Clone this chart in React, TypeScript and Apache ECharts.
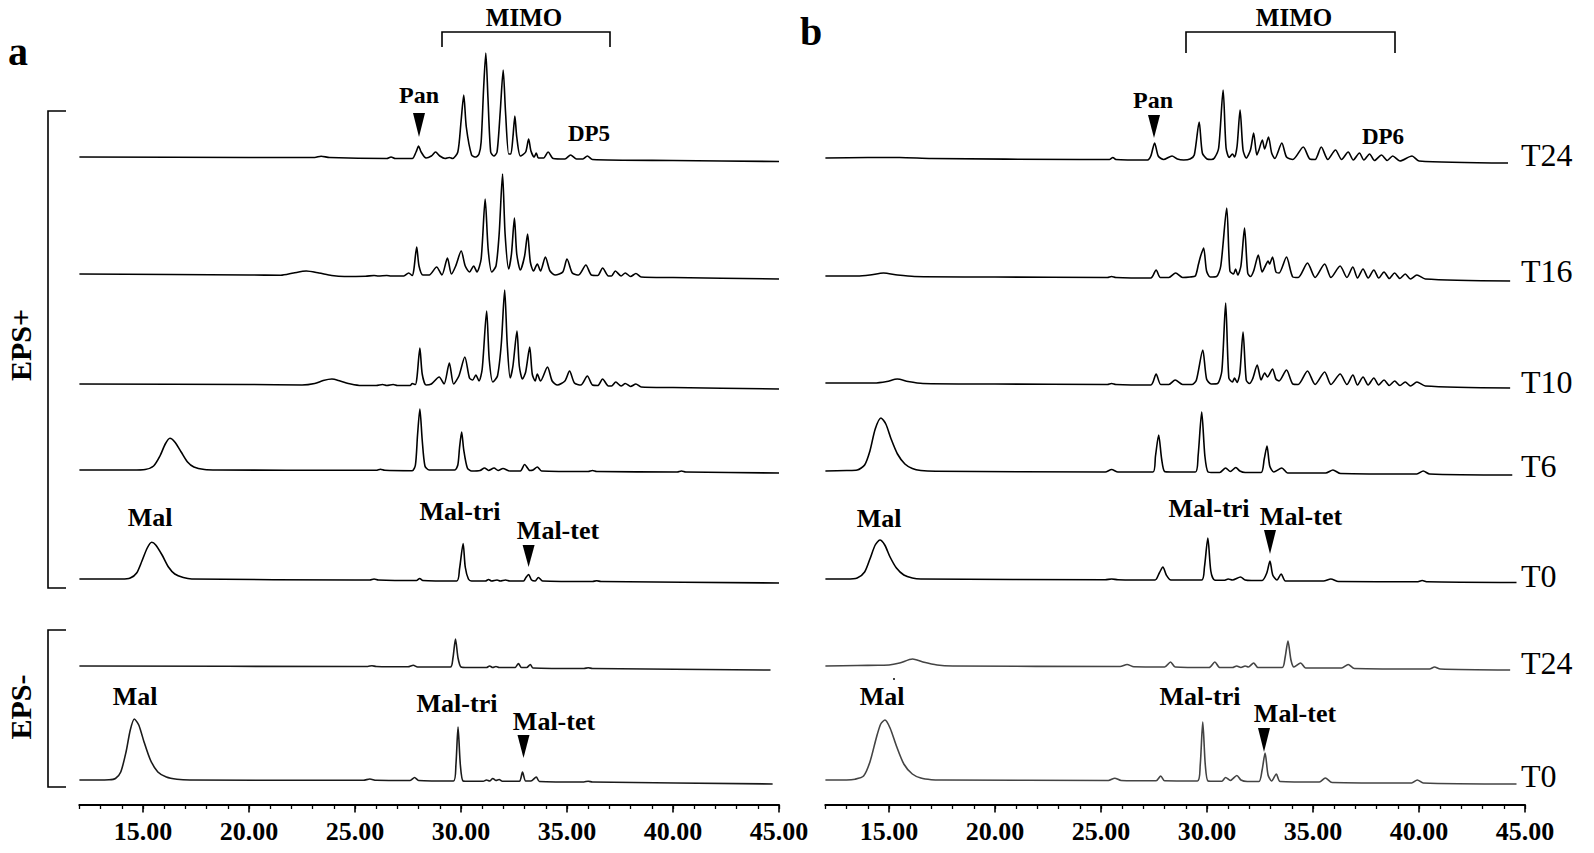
import React, { useEffect, useRef } from "react";
import * as echarts from "echarts";

// ---------- data (retention time in min, detector signal) ----------
const X_MIN = 12;
const X_MAX = 45;
const traceLabels = ["T24", "T16", "T10", "T6", "T0", "T24", "T0"];

const aT24: number[][] = [[12,0],[20,-0.5],[23.1,-0.5],[23.4,0.8],[23.8,-0.5],[26.5,-1.5],[26.7,0],[26.9,-1.5],[27.7,-1.5],[27.88,5],[28.0,11],[28.12,5],[28.35,-1],[28.6,1],[28.8,5],[29.0,1],[29.25,-1.5],[29.45,-0.5],[29.6,-1.5],[29.85,5],[30.0,35],[30.13,62],[30.25,30],[30.5,2],[30.7,0],[30.85,3],[30.95,15],[31.07,70],[31.17,104],[31.27,60],[31.4,5],[31.55,1],[31.7,5],[31.85,45],[31.99,87],[32.1,45],[32.25,3],[32.35,3],[32.45,20],[32.54,41],[32.63,20],[32.8,1],[33.05,5],[33.19,18],[33.3,6],[33.45,0],[33.55,4],[33.65,-1],[33.9,-1],[34.11,5],[34.35,-1.5],[34.9,-2],[35.17,2],[35.45,-2],[35.75,-2],[35.96,1],[36.2,-2.5],[40,-3.5],[45,-4.5]];
const aT16: number[][] = [[12,0],[20,-1],[21.5,-1.3],[22.1,1],[22.7,3],[23.3,1],[23.9,-1.5],[24.5,-2.5],[25.5,-2.2],[25.9,-1.5],[26.1,-2],[26.5,-1.5],[26.7,-2],[27.3,-2],[27.53,1],[27.7,-1.5],[27.78,5],[27.91,27],[28.02,8],[28.2,-1],[28.5,-1],[28.85,7],[29.1,-1],[29.36,16],[29.55,0],[29.75,8],[30.01,23],[30.2,8],[30.4,2],[30.6,8],[30.75,2],[30.95,15],[31.14,75],[31.28,25],[31.45,2],[31.65,8],[31.8,40],[31.96,100],[32.08,40],[32.25,5],[32.38,20],[32.52,56],[32.63,20],[32.8,4],[33.0,18],[33.14,40],[33.27,12],[33.42,3],[33.6,10],[33.75,3],[33.98,17],[34.2,3],[34.45,-1],[34.8,2],[35.0,15],[35.25,1],[35.55,-1],[35.89,9],[36.15,-1],[36.45,-1.5],[36.68,6],[36.95,-2],[37.1,-2],[37.28,3],[37.55,-2],[37.75,1],[38.0,-2.5],[38.25,0.5],[38.5,-3],[40,-3.5],[45,-5]];
const aT10: number[][] = [[12,0],[20,-0.5],[22.5,-1],[23.1,0.5],[23.5,3.5],[23.91,5],[24.3,3],[24.8,0],[25.3,-1.5],[26.0,-1.5],[26.3,-0.5],[26.5,-1.5],[26.8,-0.5],[27.0,-1.5],[27.6,-1.5],[27.7,0.5],[27.85,-0.5],[27.93,8],[28.06,36],[28.17,10],[28.35,-1],[28.6,0],[28.97,7],[29.2,0],[29.45,21],[29.65,0],[29.9,8],[30.18,27],[30.4,6],[30.55,4],[30.7,9],[30.85,3],[31.0,15],[31.21,73],[31.33,25],[31.5,2],[31.72,8],[31.9,40],[32.06,94],[32.18,40],[32.32,6],[32.45,18],[32.64,53],[32.75,18],[32.9,5],[33.05,12],[33.24,37],[33.36,10],[33.5,3],[33.6,10],[33.75,3],[34.08,17],[34.3,3],[34.55,-1],[34.9,3],[35.12,13],[35.35,1],[35.65,-1],[35.96,8],[36.2,-1],[36.45,-1.5],[36.68,5],[36.95,-2],[37.1,-2],[37.3,2],[37.55,-2],[37.75,0.5],[38.0,-2.5],[38.25,0],[38.5,-3],[40,-3.5],[45,-5]];
const aT6: number[][] = [[12,0],[14.5,0],[15.1,0.5],[15.5,4],[15.8,14],[16.05,26],[16.27,31.7],[16.5,28],[16.8,18],[17.1,8],[17.4,3],[17.9,0.5],[18.5,0],[25,-0.3],[26.0,-0.3],[26.2,0.8],[26.4,-0.3],[27.7,-0.7],[27.85,5],[27.95,35],[28.06,61],[28.17,30],[28.3,4],[28.5,0],[29.7,0],[29.85,5],[29.93,22],[30.03,38],[30.13,20],[30.3,2],[30.5,-1],[30.9,-0.5],[31.11,2],[31.3,-0.5],[31.56,2],[31.75,-0.5],[31.98,1.5],[32.3,-1],[32.8,-1],[33.0,5.5],[33.25,-0.5],[33.4,0],[33.6,3],[33.8,-1],[36,-1.5],[36.2,-0.5],[36.4,-1.5],[40.2,-2],[40.4,-1],[40.6,-2],[45,-3]];
const aT0: number[][] = [[12,0],[14.0,0],[14.4,1],[14.7,6],[14.95,18],[15.2,31],[15.41,36.7],[15.6,34],[15.9,24],[16.2,12],[16.5,5],[16.9,1.5],[17.3,0],[25,-1],[25.7,-1],[25.9,0],[26.1,-1],[27.9,-1.5],[28.05,0.5],[28.2,-1.5],[29.8,-2],[29.93,10],[30.1,35.5],[30.2,12],[30.35,0],[30.5,-2],[31.15,-2],[31.3,-0.5],[31.45,-2],[31.7,-1],[31.85,-2],[32.1,-1],[32.3,-2],[32.95,-2],[33.05,1],[33.19,4.5],[33.33,-1],[33.5,-2],[33.65,1.5],[33.85,-2],[36.2,-2.5],[36.4,-1.8],[36.6,-2.5],[45,-4]];
const aNegT24: number[][] = [[12,0],[25,-0.5],[25.6,-0.5],[25.8,0.3],[26,-0.5],[27.5,-0.8],[27.75,0.8],[27.95,-1],[29.5,-1],[29.62,8],[29.74,27],[29.86,8],[30.0,-1],[30.3,-1.5],[31.2,-1.5],[31.35,0],[31.5,-1.5],[31.65,-0.5],[31.8,-1.5],[32.55,-1.5],[32.71,2.5],[32.85,-1.5],[33.1,-1.5],[33.27,1.5],[33.4,-2],[35.8,-2.5],[36.0,-1.8],[36.2,-2.5],[44.6,-4]];
const aNegT0: number[][] = [[12,0],[13.4,0.3],[13.7,1.5],[13.95,8],[14.2,28],[14.4,50],[14.59,61],[14.8,55],[15.05,38],[15.35,20],[15.7,8],[16.1,3],[16.6,0.8],[17.2,0],[25.4,-0.3],[25.7,1],[26.0,-0.3],[27.6,-0.5],[27.81,2.5],[28.0,-0.5],[29.65,-1],[29.76,15],[29.86,53],[29.97,15],[30.1,-1],[30.4,-1.3],[31.05,-1.3],[31.2,0],[31.35,-1],[31.5,1.5],[31.65,-0.5],[31.8,0.5],[31.95,-1.3],[32.75,-1.3],[32.9,8],[33.05,-1],[33.3,-1],[33.55,3],[33.7,-1.5],[35.8,-2],[36.0,-1.2],[36.2,-2],[44.7,-4]];

const bT24: number[][] = [[12,0],[14,0.5],[15.5,0.5],[17,-0.5],[24,-1.5],[25.4,-1.5],[25.56,0.5],[25.7,-1.5],[27.2,-2],[27.35,2],[27.53,15],[27.7,2],[27.95,-1.5],[28.35,2],[28.6,-1],[28.9,-2],[29.2,-1],[29.4,3],[29.63,36],[29.78,5],[30.0,-1],[30.2,-1.5],[30.35,0],[30.55,10],[30.76,68],[30.9,10],[31.05,0.5],[31.2,4],[31.3,1],[31.42,12],[31.56,48],[31.7,8],[31.85,0],[32.05,8],[32.2,25],[32.35,3],[32.45,8],[32.61,18],[32.72,9],[32.9,21],[33.05,5],[33.2,-0.5],[33.53,15],[33.75,1],[34.05,-1.5],[34.54,11],[34.85,-1],[35.1,-1.5],[35.39,11],[35.7,-1.5],[36.06,8],[36.35,-1.5],[36.66,6],[36.9,-2],[37.19,5],[37.4,-2],[37.67,4],[37.9,-2.5],[38.23,3],[38.5,-2.5],[38.76,2],[39.1,-3],[39.67,2],[40.0,-3],[44.2,-5]];
const bT16: number[][] = [[12,0],[13.5,0],[14.1,1],[14.74,3],[15.4,1],[16.2,-0.5],[20,-1],[25.3,-1.5],[25.5,-0.5],[25.7,-1.5],[27.35,-2],[27.6,6],[27.8,-1.5],[28.2,-1.5],[28.52,3],[28.85,-1.5],[29.2,-1],[29.45,0],[29.6,12],[29.7,20],[29.84,28],[29.98,5],[30.15,-1],[30.45,-0.5],[30.65,10],[30.93,68],[31.08,5],[31.25,2],[31.35,7],[31.45,1],[31.6,10],[31.77,48],[31.92,3],[32.05,-0.5],[32.2,5],[32.42,21],[32.6,4],[32.75,10],[32.88,15],[32.95,12],[33.09,19],[33.25,4],[33.4,3],[33.75,19],[34.05,-1],[34.3,-1.5],[34.74,13],[35.1,-1.5],[35.55,12],[35.85,-1.5],[36.28,10],[36.6,-1.5],[36.88,9],[37.1,-2],[37.36,7],[37.6,-2],[37.87,6],[38.1,-2],[38.35,4],[38.6,-2.5],[38.85,3],[39.1,-2.5],[39.35,2],[39.6,-3],[39.9,1],[40.3,-3],[44.3,-5]];
const bT10: number[][] = [[12,0],[14.3,0],[14.9,1.5],[15.39,4],[15.9,1.5],[16.6,-0.5],[20,-1],[25.3,-1.5],[25.5,-0.5],[25.7,-1.5],[27.35,-2],[27.6,9],[27.82,-1.5],[28.2,-1.5],[28.5,3],[28.85,-1.5],[29.3,-1.5],[29.5,3],[29.8,33],[29.98,4],[30.2,-1],[30.5,-0.5],[30.7,12],[30.88,80],[31.03,5],[31.2,1],[31.3,5],[31.42,0.5],[31.55,10],[31.7,51],[31.85,3],[32.0,-0.5],[32.15,4],[32.37,18],[32.55,3],[32.72,10],[32.85,6],[33.09,14],[33.25,4],[33.4,2],[33.75,13],[34.05,-1],[34.3,-1.5],[34.74,12],[35.1,-1.5],[35.55,11],[35.85,-1.5],[36.28,9],[36.6,-1.5],[36.88,8],[37.1,-2],[37.36,6],[37.6,-2],[37.87,5],[38.1,-2],[38.35,3],[38.6,-2.5],[38.85,2],[39.1,-2.5],[39.35,1],[39.6,-3],[39.9,1],[40.3,-3],[44.3,-5]];
const bT6: number[][] = [[12,0],[13.0,0.5],[13.5,1],[13.85,6],[14.1,20],[14.35,42],[14.62,53],[14.85,47],[15.1,32],[15.4,17],[15.75,7],[16.1,2.5],[16.5,0.5],[17.2,-0.3],[25.2,-1],[25.5,1.5],[25.8,-1],[27.45,-1],[27.57,15],[27.72,36],[27.86,12],[28.0,-0.5],[28.3,-1],[29.45,-1],[29.58,15],[29.75,59],[29.9,15],[30.05,-1],[30.3,-1.5],[30.6,-1.5],[30.88,3],[31.1,-0.5],[31.36,3.5],[31.55,0],[31.8,-1.5],[32.55,-1.5],[32.7,12],[32.83,25],[32.96,5],[33.15,-1],[33.53,3],[33.8,-2],[35.6,-2],[35.94,1],[36.3,-2.5],[39.9,-3],[40.2,0],[40.5,-3],[44.4,-4]];
const bT0: number[][] = [[12,0],[13.0,0],[13.5,1],[13.85,7],[14.1,20],[14.35,34],[14.57,39],[14.8,34],[15.05,22],[15.35,11],[15.7,4],[16.1,1],[16.5,0],[25.2,-0.7],[25.5,0],[25.8,-0.7],[27.55,-1],[27.75,6],[27.92,12],[28.08,4],[28.3,-1],[29.75,-1],[29.88,12],[30.04,41],[30.18,8],[30.35,-1],[30.8,-1.3],[31.0,0],[31.2,-1],[31.58,2],[31.8,-1],[32.1,-1.5],[32.6,-1.5],[32.82,6],[32.97,18],[33.1,4],[33.3,-1],[33.5,5],[33.7,-2],[35.5,-2],[35.84,0],[36.2,-2.5],[39.9,-2.8],[40.15,-1.5],[40.4,-2.8],[44.6,-3.5]];
const bNegT24: number[][] = [[12,0],[13.5,0.5],[14.5,0.8],[15.0,1],[15.5,3],[16.11,7],[16.6,4],[17.27,1],[18,0],[25.9,-0.5],[26.23,1.5],[26.55,-0.8],[28.0,-1],[28.28,4],[28.5,-1],[30.1,-1.5],[30.37,4],[30.6,-1.5],[31.2,-1.5],[31.4,0],[31.6,-1.5],[31.8,0],[31.95,-1],[32.2,3],[32.4,-1.5],[33.55,-1.5],[33.68,8],[33.82,25],[33.96,6],[34.1,-1],[34.42,3],[34.65,-2],[36.35,-2],[36.66,1.5],[36.95,-2.5],[40.5,-3],[40.73,-1],[41.0,-3],[44.3,-4]];
const bNegT0: number[][] = [[12,0],[13.0,0],[13.4,0.8],[13.8,4],[14.1,18],[14.4,42],[14.61,56],[14.81,60],[15.05,52],[15.35,34],[15.7,16],[16.1,6],[16.5,2],[17.0,0.3],[17.5,0],[25.35,-0.5],[25.65,1.8],[25.95,-0.5],[27.6,-0.8],[27.82,4],[28.0,-0.8],[29.55,-1],[29.68,15],[29.8,58],[29.92,15],[30.05,-1],[30.4,-1.3],[30.7,-1.3],[30.88,2.5],[31.1,-0.5],[31.41,4.5],[31.6,0],[31.9,-1.5],[32.45,-1.5],[32.6,10],[32.74,27],[32.88,5],[33.05,-1],[33.27,6],[33.45,-1.5],[35.3,-2],[35.58,2],[35.9,-2.5],[39.65,-3],[39.92,0],[40.2,-3],[44.6,-4]];

const panelATraces = [aT24, aT16, aT10, aT6, aT0, aNegT24, aNegT0];
const panelBTraces = [bT24, bT16, bT10, bT6, bT0, bNegT24, bNegT0];

// ---------- layout ----------
const FONT = "Liberation Serif";
const PANELS = [
  { left: 79.4, width: 699.6, majorLeft: 143, majorWidth: 636, bases: [157, 274, 384, 470, 579, 666, 780], colors: ["#000", "#000", "#000", "#000", "#000", "#1a1a1a", "#1a1a1a"], traces: panelATraces },
  { left: 825.4, width: 699.6, majorLeft: 889, majorWidth: 636, bases: [158, 276, 383, 471, 579, 666, 780], colors: ["#000", "#000", "#000", "#000", "#000", "#444", "#444"], traces: panelBTraces },
];
const AXIS_Y = 805;

function txt(text: string, x: number, y: number, size: number, weight = "bold", align = "center", rotation = 0) {
  return {
    type: "text", x, y, rotation, silent: true,
    style: { text, fill: "#000", fontSize: size, fontWeight: weight, fontFamily: FONT, textAlign: align, textVerticalAlign: "middle" },
  };
}
function tri(x: number, top: number, tip: number, half = 6) {
  return { type: "polygon", silent: true, shape: { points: [[x - half, top], [x + half, top], [x, tip]] }, style: { fill: "#000" } };
}
function pline(points: number[][]) {
  return { type: "polyline", silent: true, shape: { points }, style: { stroke: "#000", lineWidth: 1.6, fill: null } };
}

export default function App() {
  const ref = useRef<HTMLDivElement>(null);
  useEffect(() => {
    if (!ref.current) return;
    const chart = echarts.init(ref.current, null, { renderer: "svg" });
    const grid: any[] = [];
    const xAxis: any[] = [];
    const yAxis: any[] = [];
    const series: any[] = [];
    PANELS.forEach((p) => {
      p.traces.forEach((data, i) => {
        const gi = grid.length;
        grid.push({ left: p.left, width: p.width, top: p.bases[i] - 120, height: 130, containLabel: false, outerBoundsMode: "none" });
        xAxis.push({ gridIndex: gi, type: "value", min: X_MIN, max: X_MAX, show: false });
        yAxis.push({ gridIndex: gi, type: "value", min: -10, max: 120, show: false });
        series.push({
          type: "line", name: traceLabels[i], xAxisIndex: gi, yAxisIndex: gi, data,
          showSymbol: false, symbol: "none", silent: true, smooth: 0.25,
          lineStyle: { color: p.colors[i], width: 1.6, join: "round" },
        });
      });
      // minor-tick axis with line
      let gi = grid.length;
      grid.push({ left: p.left, width: p.width, top: AXIS_Y - 20, height: 20, containLabel: false, outerBoundsMode: "none" });
      xAxis.push({
        gridIndex: gi, type: "value", min: X_MIN, max: X_MAX, interval: 1,
        axisLine: { show: true, onZero: false, lineStyle: { color: "#000", width: 2.2 } },
        axisTick: { show: true, length: 4, lineStyle: { color: "#000", width: 1.3 } },
        axisLabel: { show: false }, splitLine: { show: false },
      });
      yAxis.push({ gridIndex: gi, type: "value", min: 0, max: 1, show: false });
      // major-tick axis with labels
      gi = grid.length;
      grid.push({ left: p.majorLeft, width: p.majorWidth, top: AXIS_Y - 20, height: 20, containLabel: false, outerBoundsMode: "none" });
      xAxis.push({
        gridIndex: gi, type: "value", min: 15, max: 45, interval: 5,
        axisLine: { show: false, onZero: false },
        axisTick: { show: true, length: 7.5, lineStyle: { color: "#000", width: 1.6 } },
        axisLabel: { show: true, margin: 13, formatter: (v: number) => v.toFixed(2), color: "#000", fontFamily: FONT, fontWeight: "bold", fontSize: 26 },
        splitLine: { show: false },
      });
      yAxis.push({ gridIndex: gi, type: "value", min: 0, max: 1, show: false });
    });

    const graphic: any[] = [
      txt("a", 18, 51, 40),
      txt("b", 811, 31, 40),
      txt("MIMO", 524, 17, 25),
      pline([[442, 47], [442, 32], [610, 32], [610, 47]]),
      txt("MIMO", 1294, 17, 25),
      pline([[1186, 53], [1186, 32], [1395, 32], [1395, 53]]),
      txt("Pan", 419, 95, 24),
      tri(419, 113, 137),
      txt("DP5", 589, 133, 23),
      txt("Pan", 1153, 100, 24),
      tri(1154, 115, 138),
      txt("DP6", 1383, 136, 23),
      txt("Mal", 150, 517, 26),
      txt("Mal-tri", 460, 511, 26),
      txt("Mal-tet", 558, 530, 26),
      tri(528.6, 545, 567),
      txt("Mal", 135, 696, 26),
      txt("Mal-tri", 457, 703, 26),
      txt("Mal-tet", 554, 721, 26),
      tri(523.5, 735, 758),
      txt("Mal", 879, 518, 26),
      txt("Mal-tri", 1209, 508, 26),
      txt("Mal-tet", 1301, 516, 26),
      tri(1270, 530, 554),
      txt("Mal", 882, 696, 26),
      txt("Mal-tri", 1200, 696, 26),
      txt("Mal-tet", 1295, 713, 26),
      tri(1264, 728, 752),
      txt("EPS+", 20, 345, 30, "bold", "center", Math.PI / 2),
      txt("EPS-", 20, 707, 30, "bold", "center", Math.PI / 2),
      pline([[66, 111], [48, 111], [48, 588], [66, 588]]),
      pline([[66, 630], [48, 630], [48, 787], [66, 787]]),
      { type: "rect", silent: true, shape: { x: 893, y: 678, width: 2, height: 2 }, style: { fill: "#444" } },
    ];
    const labelYs = [155, 271, 382, 466, 576, 663, 776];
    traceLabels.forEach((t, i) => graphic.push(txt(t, 1521, labelYs[i], 32, "normal", "left")));

    chart.setOption({
      animation: false,
      backgroundColor: "#fff",
      textStyle: { fontFamily: FONT },
      grid, xAxis, yAxis, series, graphic,
    });
    return () => chart.dispose();
  }, []);
  return <div ref={ref} style={{ position: "fixed", left: 0, top: 0, width: 1594, height: 853 }} />;
}
